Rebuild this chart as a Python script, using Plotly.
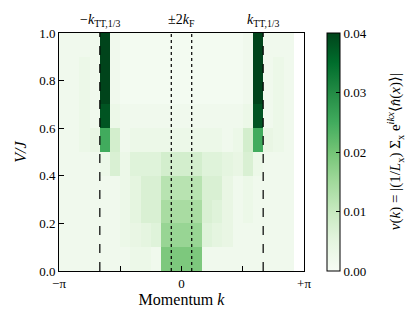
import numpy as np
import plotly.graph_objects as go

# momentum bin edges (24 bins from -pi to pi) and V/J bin edges
k_edges = np.linspace(-np.pi, np.pi, 25)
v_edges = np.round(np.linspace(0.0, 1.0, 11), 2)

# nu(k) per V/J row, one value per k bin (last bin empty)
row_v00 = [0.002, 0.002, 0.002, 0.002, 0.002, 0.002, 0.002, 0.003, 0.003, 0.002, 0.019, 0.019,
           0.019, 0.019, 0.002, 0.002, 0.002, 0.002, 0.002, 0.002, 0.002, 0.002, 0.002, None]
row_v01 = [0.002, 0.002, 0.002, 0.002, 0.002, 0.002, 0.003, 0.004, 0.005, 0.006, 0.016, 0.016,
           0.016, 0.016, 0.006, 0.005, 0.004, 0.002, 0.002, 0.002, 0.002, 0.002, 0.002, None]
row_v02 = [0.002, 0.002, 0.002, 0.002, 0.002, 0.002, 0.003, 0.005, 0.007, 0.007, 0.014, 0.014,
           0.014, 0.014, 0.007, 0.006, 0.004, 0.002, 0.003, 0.002, 0.002, 0.002, 0.002, None]
row_v03 = [0.002, 0.002, 0.002, 0.002, 0.002, 0.002, 0.003, 0.005, 0.007, 0.007, 0.012, 0.012,
           0.012, 0.012, 0.007, 0.007, 0.004, 0.002, 0.003, 0.002, 0.002, 0.002, 0.002, None]
row_v04 = [0.002, 0.002, 0.002, 0.002, 0.003, 0.007, 0.003, 0.006, 0.006, 0.006, 0.008, 0.008,
           0.008, 0.008, 0.006, 0.006, 0.005, 0.004, 0.007, 0.003, 0.002, 0.002, 0.002, None]
row_v05 = [0.002, 0.002, 0.003, 0.004, 0.025, 0.008, 0.002, 0.003, 0.003, 0.003, 0.003, 0.003,
           0.003, 0.003, 0.003, 0.003, 0.002, 0.003, 0.008, 0.025, 0.004, 0.003, 0.002, None]
row_v06 = [0.002, 0.002, 0.003, 0.002, 0.038, 0.003, 0.002, 0.002, 0.002, 0.002, 0.002, 0.002,
           0.002, 0.002, 0.002, 0.002, 0.002, 0.002, 0.003, 0.038, 0.002, 0.003, 0.002, None]
row_v07 = [0.002, 0.002, 0.003, 0.002, 0.045, 0.002, 0.001, 0.001, 0.001, 0.001, 0.001, 0.001,
           0.001, 0.001, 0.001, 0.001, 0.001, 0.001, 0.002, 0.045, 0.002, 0.003, 0.002, None]
row_v08 = [0.002, 0.002, 0.003, 0.002, 0.045, 0.002, 0.001, 0.001, 0.001, 0.001, 0.001, 0.001,
           0.001, 0.001, 0.001, 0.001, 0.001, 0.001, 0.002, 0.045, 0.002, 0.003, 0.002, None]
row_v09 = [0.002, 0.002, 0.002, 0.002, 0.045, 0.002, 0.001, 0.001, 0.001, 0.001, 0.001, 0.001,
           0.001, 0.001, 0.001, 0.001, 0.001, 0.001, 0.002, 0.045, 0.002, 0.002, 0.002, None]

z = [row_v00, row_v01, row_v02, row_v03, row_v04,
     row_v05, row_v06, row_v07, row_v08, row_v09]

# reference momenta
k_tt = 2 * np.pi / 3
two_kf = np.pi / 12

greens = [[0.0, "#f7fcf5"], [0.125, "#e5f5e0"], [0.25, "#c7e9c0"], [0.375, "#a1d99b"],
          [0.5, "#74c476"], [0.625, "#41ab5d"], [0.75, "#238b45"], [0.875, "#006d2c"],
          [1.0, "#00441b"]]

font_style = dict(family="Liberation Serif", size=13, color="black")
font_big = dict(family="Liberation Serif", size=14, color="black")
font_cbar_title = dict(family="Liberation Serif", size=15, color="black")

fig = go.Figure(go.Heatmap(
    x=k_edges, y=v_edges, z=z,
    zmin=0, zmax=0.04, colorscale=greens,
    colorbar=dict(
        x=1.094, xanchor="left", xpad=0, y=0.5, yanchor="middle", len=1.0, ypad=0,
        thickness=13, outlinecolor="black", outlinewidth=1,
        tickvals=[0, 0.01, 0.02, 0.03, 0.04], tickformat=".2f",
        ticks="inside", ticklen=4, tickcolor="black",
        tickfont=font_style,
    ),
    hoverongaps=False,
))

# colorbar label, placed by hand so it sits where the reference has it
fig.add_annotation(
    x=1.372, y=0.5, xref="paper", yref="paper", xanchor="center", yanchor="middle",
    textangle=-90, showarrow=False, font=font_cbar_title,
    text="<i>ν</i>(<i>k</i>) = |(1/<i>L</i><sub>x</sub>) Σ<sub>x</sub> "
         "e<sup><i>ikx</i></sup>⟨<i>n̂</i>(<i>x</i>)⟩|",
)

# vertical guide lines
for xv, dash in [(-k_tt, "dash"), (k_tt, "dash"), (-two_kf, "dot"), (two_kf, "dot")]:
    fig.add_shape(type="line", x0=xv, x1=xv, y0=0, y1=1, xref="x", yref="y",
                  line=dict(color="black", width=1.2, dash=dash))

# top labels
for xv, txt in [(-k_tt, "−<i>k</i><sub>TT,1/3</sub>"), (0, "±2<i>k</i><sub>F</sub>"),
                (k_tt, "<i>k</i><sub>TT,1/3</sub>")]:
    fig.add_annotation(x=xv, y=1, xref="x", yref="paper", yanchor="bottom",
                       text=txt, showarrow=False, yshift=2, font=font_big)

# page body adds an 8px offset, so the figure is 8px smaller and margins shifted
fig.update_layout(
    width=411, height=315,
    margin=dict(l=51, r=115, t=25, b=52, autoexpand=False),
    plot_bgcolor="white", paper_bgcolor="white",
    font=font_style,
    showlegend=False,
)
fig.update_xaxes(
    range=[-np.pi, np.pi], automargin=False,
    tickvals=[-np.pi, -np.pi / 2, 0, np.pi / 2, np.pi],
    ticktext=["−π", "", "0", "", "+π"],
    ticks="inside", ticklen=5, tickcolor="black",
    showline=True, linecolor="black", linewidth=1, mirror=True,
    showgrid=False, zeroline=False,
    title=dict(text="Momentum <i>k</i>", standoff=4),
)
fig.update_yaxes(
    range=[0, 1], automargin=False,
    tickvals=[0, 0.2, 0.4, 0.6, 0.8, 1.0], tickformat=".1f",
    ticks="inside", ticklen=5, tickcolor="black",
    showline=True, linecolor="black", linewidth=1, mirror=True,
    showgrid=False, zeroline=False,
    title=dict(text="<i>V/J</i>", standoff=8),
)

fig.write_html("out.html")
